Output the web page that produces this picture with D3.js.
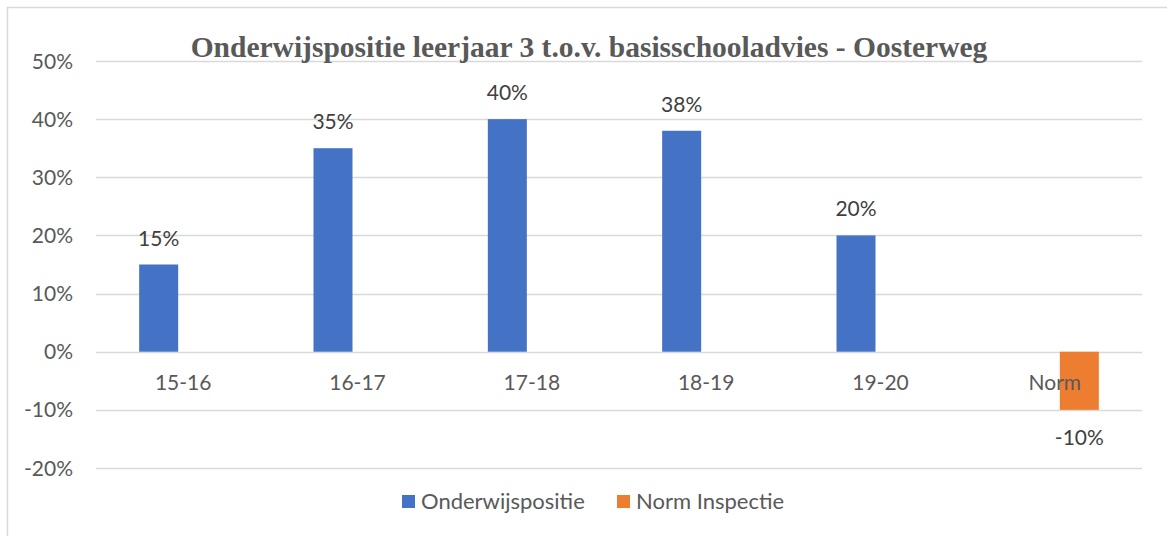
<!DOCTYPE html>
<html>
<head>
<meta charset="utf-8">
<script src="https://cdn.jsdelivr.net/npm/d3@7"></script>
<style>
  body { margin: 0; background: #fff; }
  svg { display: block; }
</style>
</head>
<body>
<div id="chart"></div>
<script>
const categories = ["15-16", "16-17", "17-18", "18-19", "19-20", "Norm"];
const seriesNames = ["Onderwijspositie", "Norm Inspectie"];
const onderwijspositie = [0.15, 0.35, 0.40, 0.38, 0.20, null];
const normInspectie = [null, null, null, null, null, -0.10];
const yTicks = [-0.2, -0.1, 0, 0.1, 0.2, 0.3, 0.4, 0.5];
const colors = ["#4472C4", "#ED7D31"];

const width = 1167;
const height = 536;
const font = "Lato, 'Liberation Sans', sans-serif";
const pct = d => Math.round(d * 100) + "%";

const svg = d3.select("#chart").append("svg")
  .attr("width", width)
  .attr("height", height);

// chart area border (only top and left visible in original)
svg.append("line").attr("x1", 7).attr("x2", width).attr("y1", 7.5).attr("y2", 7.5)
  .attr("stroke", "#d9d9d9").attr("stroke-width", 1.5);
svg.append("line").attr("x1", 7.5).attr("x2", 7.5).attr("y1", 7).attr("y2", height)
  .attr("stroke", "#d9d9d9").attr("stroke-width", 1.5);

const x = d3.scaleBand().domain(categories).range([96, 1142]);
const y = d3.scaleLinear().domain([-0.2, 0.5]).range([468, 61]);

// gridlines
svg.append("g")
  .selectAll("line")
  .data(yTicks)
  .enter()
  .append("line")
  .attr("x1", 96)
  .attr("x2", 1142)
  .attr("y1", d => Math.round(y(d)) + 0.5)
  .attr("y2", d => Math.round(y(d)) + 0.5)
  .attr("stroke", "#d9d9d9")
  .attr("stroke-width", 1.5);

// y axis labels
svg.append("g")
  .selectAll("text")
  .data(yTicks)
  .enter()
  .append("text")
  .attr("x", 73)
  .attr("y", d => y(d) + 7.5)
  .attr("text-anchor", "end")
  .attr("font-family", font)
  .attr("font-size", "21px")
  .attr("fill", "#595959")
  .text(pct);

// bars: blue on left of centre, orange on right
const barW = 39, barGap = 5;
const series = [onderwijspositie, normInspectie];
series.forEach((vals, si) => {
  const data = categories.map((c, i) => ({ cat: c, v: vals[i] })).filter(d => d.v != null);
  const offset = si === 0 ? -barGap - barW : barGap;
  const g = svg.append("g");
  g.selectAll("rect")
    .data(data)
    .enter()
    .append("rect")
    .attr("x", d => x(d.cat) + x.bandwidth() / 2 + offset)
    .attr("y", d => y(Math.max(0, d.v)))
    .attr("width", barW)
    .attr("height", d => Math.abs(y(d.v) - y(0)))
    .attr("fill", colors[si]);
  g.selectAll("text")
    .data(data)
    .enter()
    .append("text")
    .attr("x", d => x(d.cat) + x.bandwidth() / 2 + offset + barW / 2)
    .attr("y", d => d.v >= 0 ? y(d.v) - 19 : y(d.v) + 35)
    .attr("text-anchor", "middle")
    .attr("font-family", font)
    .attr("font-size", "21px")
    .attr("fill", "#404040")
    .text(d => pct(d.v));
});

// category labels (drawn over the bars, like the original)
svg.append("g")
  .selectAll("text")
  .data(categories)
  .enter()
  .append("text")
  .attr("x", d => x(d) + x.bandwidth() / 2)
  .attr("y", 390)
  .attr("text-anchor", "middle")
  .attr("font-family", font)
  .attr("font-size", "21px")
  .attr("fill", "#595959")
  .text(d => d);

// title
svg.append("text")
  .attr("x", 589)
  .attr("y", 57)
  .attr("text-anchor", "middle")
  .attr("font-family", "'Liberation Serif', 'Times New Roman', serif")
  .attr("font-weight", "bold")
  .attr("font-size", "29.5px")
  .attr("fill", "#595959")
  .text("Onderwijspositie leerjaar 3 t.o.v. basisschooladvies - Oosterweg");

// legend
const legendX = [402, 617];
const legend = svg.append("g");
seriesNames.forEach((name, i) => {
  legend.append("rect")
    .attr("x", legendX[i])
    .attr("y", 495)
    .attr("width", 13)
    .attr("height", 13)
    .attr("fill", colors[i]);
  legend.append("text")
    .attr("x", legendX[i] + 19)
    .attr("y", 509)
    .attr("font-family", font)
    .attr("font-size", "22px")
    .attr("fill", "#595959")
    .text(name);
});
</script>
</body>
</html>
